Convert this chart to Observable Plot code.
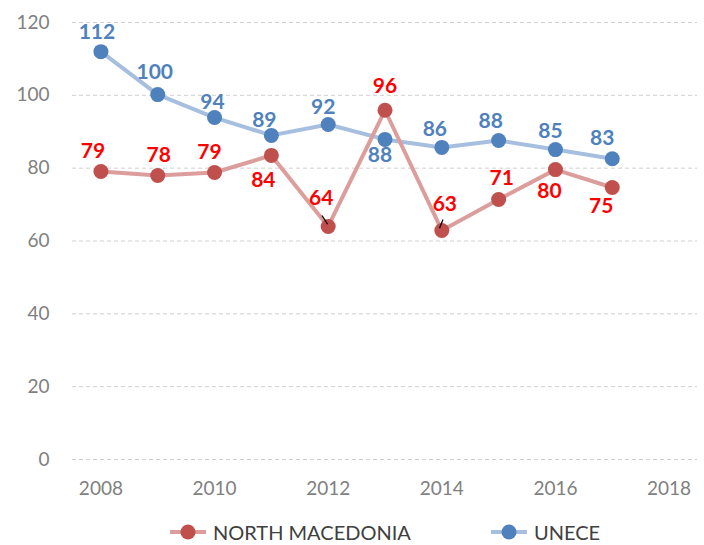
<!DOCTYPE html>
<html>
<head>
<meta charset="utf-8">
<script src="https://cdn.jsdelivr.net/npm/d3@7"></script>
<script src="https://cdn.jsdelivr.net/npm/@observablehq/plot@0.6"></script>
<style>
  body { margin: 0; background: #fff; font-family: Lato, "Open Sans", sans-serif; }
  #legend { position: relative; width: 704px; height: 35px; }
  .item { position: absolute; top: 12px; display: flex; align-items: center; font-size: 20px; color: #404040; line-height: 20px; }
  .item svg { margin-right: 7px; }
</style>
</head>
<body>
<div id="chart"></div>
<div id="legend"></div>
<script>
const years = [2008, 2009, 2010, 2011, 2012, 2013, 2014, 2015, 2016, 2017];
const macedonia = [79.1, 78.0, 78.8, 83.5, 64.0, 95.9, 62.9, 71.4, 79.6, 74.7];
const unece = [112.0, 100.2, 93.9, 89.0, 92.0, 87.9, 85.7, 87.6, 85.1, 82.6];
const yTicks = [0, 20, 40, 60, 80, 100, 120];
const xTicks = [2008, 2010, 2012, 2014, 2016, 2018];
const seriesNames = ["NORTH MACEDONIA", "UNECE"];
const leaderYears = [2012, 2014];

// label placement (layout only): offset of each value label from its point, in pixels
const macedoniaLabelDx = [-8, 1, -5, -8, -7, 0, 3, 3, -6, -11];
const macedoniaLabelDy = [-20, -20, -20, 25, -28, -24, -26, -21, 22, 19];
const uneceLabelDx = [-4, -3, -2, -7, -5, -5, -7, -8, -5, -10];
const uneceLabelDy = [-19, -22, -15, -15, -17, 16, -18, -19, -18, -20];

const mk = years.map((y, i) => ({year: y, value: macedonia[i], dx: macedoniaLabelDx[i], dy: macedoniaLabelDy[i]}));
const un = years.map((y, i) => ({year: y, value: unece[i], dx: uneceLabelDx[i], dy: uneceLabelDy[i]}));

const redDot = "#c0504d", redLine = "#dc9e9c";
const blueDot = "#4f81bd", blueLine = "#a6bfdf";
const redText = "#ff0000", blueText = "#4f81bd";

const leaders = mk.filter(d => leaderYears.includes(d.year)).map((d, i) => ({
  x1: d.year + (i === 0 ? -0.11 : 0.02), y1: d.value + 3.0,
  x2: d.year + (i === 0 ? -0.01 : -0.04), y2: d.value + 0.6
}));

// one text mark per label so each can carry its own offset
const labelMarks = (data, color) => data.map(d =>
  Plot.text([d], {x: "year", y: "value", text: d => Math.round(d.value), dx: d.dx, dy: d.dy, fill: color, fontWeight: "bold", fontSize: 21})
);

const chart = Plot.plot({
  width: 704,
  height: 510,
  marginTop: 22,
  marginBottom: 51,
  marginLeft: 72,
  marginRight: 7,
  style: {fontFamily: "Lato, 'Open Sans', sans-serif", background: "#fff"},
  x: {domain: [2007.5, 2018.5], ticks: xTicks, tickFormat: d => String(d)},
  y: {domain: [0, 120], ticks: yTicks},
  marks: [
    Plot.gridY(yTicks, {stroke: "#d0d0d0", strokeOpacity: 1, strokeDasharray: "4,3", strokeWidth: 1}),
    Plot.axisY({ticks: yTicks, tickSize: 0, tickPadding: 23, fontSize: 19, fill: "#808080", color: "#808080"}),
    Plot.axisX({ticks: xTicks, tickSize: 0, tickPadding: 22, fontSize: 19, fill: "#808080", color: "#808080", tickFormat: d => String(d)}),
    Plot.line(un, {x: "year", y: "value", stroke: blueLine, strokeWidth: 4}),
    Plot.line(mk, {x: "year", y: "value", stroke: redLine, strokeWidth: 4}),
    Plot.dot(un, {x: "year", y: "value", r: 7.5, fill: blueDot}),
    Plot.dot(mk, {x: "year", y: "value", r: 7.5, fill: redDot}),
    Plot.link(leaders, {x1: "x1", y1: "y1", x2: "x2", y2: "y2", stroke: "#000", strokeWidth: 1.3}),
    ...labelMarks(un, blueText),
    ...labelMarks(mk, redText)
  ]
});
document.getElementById("chart").appendChild(chart);

const legend = document.getElementById("legend");
const legendItems = [
  {name: seriesNames[0], line: redLine, dot: redDot, left: 170},
  {name: seriesNames[1], line: blueLine, dot: blueDot, left: 491}
];
legendItems.forEach(it => {
  const div = document.createElement("div");
  div.className = "item";
  div.style.left = it.left + "px";
  div.innerHTML = `<svg width="36" height="20"><line x1="0" y1="10" x2="36" y2="10" stroke="${it.line}" stroke-width="4"/><circle cx="18" cy="10" r="7.5" fill="${it.dot}"/></svg><span>${it.name}</span>`;
  legend.appendChild(div);
});
</script>
</body>
</html>
